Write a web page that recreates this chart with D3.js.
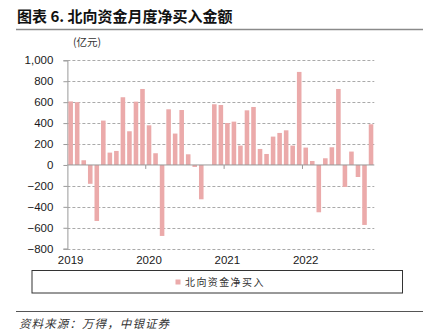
<!DOCTYPE html>
<html>
<head>
<meta charset="utf-8">
<script src="https://cdn.jsdelivr.net/npm/d3@7"></script>
<style>
  html, body { margin: 0; padding: 0; background: #fff; }
  svg { display: block; }
</style>
</head>
<body>
<svg id="chart" width="440" height="335"></svg>
<script>
// Monthly northbound net buying, 2019-01 .. 2022-11 (亿元)
const months = [];
for (let yr = 2019; yr <= 2022; yr++) {
  for (let m = 1; m <= 12; m++) {
    if (yr === 2022 && m === 12) break;
    months.push(yr + "-" + String(m).padStart(2, "0"));
  }
}
const netBuy = [
  607, 600, 45, -180, -535, 424, 118, 134, 647, 322, 605, 726,
  379, 112, -678, 532, 300, 525, 102, -19, -328, 0, 580, 573,
  401, 414, 185, 522, 554, 153, 105, 271, 306, 331, 185, 889,
  166, 38, -452, 64, 169, 726, -210, 128, -115, -573, 389
];
const yTicks = [-800, -600, -400, -200, 0, 200, 400, 600, 800, 1000];
const yearLabels = ["2019", "2020", "2021", "2022"];
const seriesName = "北向资金净买入";
const titleText = "图表 6. 北向资金月度净买入金额";
const unitText = "(亿元)";
const sourceText = "资料来源：万得，中银证券";

const svg = d3.select("#chart");
const plotL = 67.4, plotR = 374.3, plotT = 60.3, plotB = 248.7;
const barColor = "#EBAAAA";

const x = d3.scaleBand().domain(months).range([plotL, plotR]).paddingInner(0.3).paddingOuter(0.15);
const y = d3.scaleLinear().domain([-800, 1000]).range([plotB, plotT]);

// Title and rule beneath it
svg.append("text")
  .attr("x", 17).attr("y", 22)
  .attr("font-family", "'Noto Sans CJK SC', sans-serif")
  .attr("font-weight", "bold").attr("font-size", 15)
  .attr("fill", "#111")
  .text(titleText);
svg.append("line")
  .attr("x1", 16).attr("x2", 423).attr("y1", 29.5).attr("y2", 29.5)
  .attr("stroke", "#8a8a8a").attr("stroke-width", 1.3);

// Unit label
svg.append("text")
  .attr("x", 73).attr("y", 46)
  .attr("font-family", "'Noto Sans CJK SC', sans-serif")
  .attr("font-size", 10.5).attr("fill", "#333")
  .text(unitText);

// Dashed horizontal gridlines
svg.append("g")
  .selectAll("line")
  .data(yTicks.filter(d => d !== 0))
  .join("line")
  .attr("x1", plotL).attr("x2", plotR)
  .attr("y1", d => Math.round(y(d)) + 0.5).attr("y2", d => Math.round(y(d)) + 0.5)
  .attr("stroke", "#aaaaaa").attr("stroke-width", 1)
  .attr("stroke-dasharray", "3,2");

// Y axis
const yAxis = d3.axisLeft(y).tickValues(yTicks).tickSize(4).tickFormat(d3.format(","));
const gy = svg.append("g").attr("transform", `translate(${plotL},0)`).call(yAxis);
gy.select(".domain").attr("stroke", "#999");
gy.selectAll(".tick line").attr("stroke", "#999");
gy.selectAll(".tick text")
  .attr("x", -14)
  .attr("font-family", "'Liberation Sans', Arial, sans-serif")
  .attr("font-size", 11.5).attr("fill", "#1a1a1a");

// Bars
svg.append("g")
  .selectAll("rect")
  .data(netBuy)
  .join("rect")
  .attr("x", (d, i) => x(months[i]))
  .attr("width", x.bandwidth())
  .attr("y", d => y(Math.max(0, d)))
  .attr("height", d => Math.abs(y(d) - y(0)))
  .attr("fill", barColor);

// Zero line with year ticks
svg.append("line")
  .attr("x1", plotL).attr("x2", plotR)
  .attr("y1", y(0)).attr("y2", y(0))
  .attr("stroke", "#999").attr("stroke-width", 1);
const step = x.step();
const yearStart = yearLabels.map(yr => x(yr + "-01") - step * x.paddingInner() / 2);
svg.append("g")
  .selectAll("line")
  .data(yearStart.slice(1))
  .join("line")
  .attr("x1", d => d).attr("x2", d => d)
  .attr("y1", y(0)).attr("y2", y(0) + 4)
  .attr("stroke", "#999");

// Year labels centred on each January
svg.append("g")
  .selectAll("text")
  .data(yearLabels)
  .join("text")
  .attr("x", d => x(d + "-01") + x.bandwidth() / 2)
  .attr("y", 264)
  .attr("text-anchor", "middle")
  .attr("font-family", "'Liberation Sans', Arial, sans-serif")
  .attr("font-size", 11.5).attr("fill", "#1a1a1a")
  .text(d => d);

// Legend
svg.append("rect")
  .attr("x", 32).attr("y", 270.5).attr("width", 370.5).attr("height", 22.5)
  .attr("fill", "none").attr("stroke", "#333").attr("stroke-width", 1);
svg.append("rect")
  .attr("x", 175.5).attr("y", 279.5).attr("width", 5).attr("height", 5)
  .attr("fill", barColor);
svg.append("text")
  .attr("x", 185).attr("y", 286)
  .attr("font-family", "'Noto Sans CJK SC', sans-serif")
  .attr("font-size", 10).attr("letter-spacing", 1.4).attr("fill", "#333")
  .text(seriesName);

// Source line
svg.append("line")
  .attr("x1", 16).attr("x2", 423).attr("y1", 311.5).attr("y2", 311.5)
  .attr("stroke", "#555").attr("stroke-width", 1);
svg.append("text")
  .attr("x", 19).attr("y", 327.5)
  .attr("font-family", "'Noto Sans CJK SC', sans-serif")
  .attr("font-style", "italic")
  .attr("font-size", 11.5).attr("letter-spacing", 1.1).attr("fill", "#333")
  .text(sourceText);
</script>
</body>
</html>
